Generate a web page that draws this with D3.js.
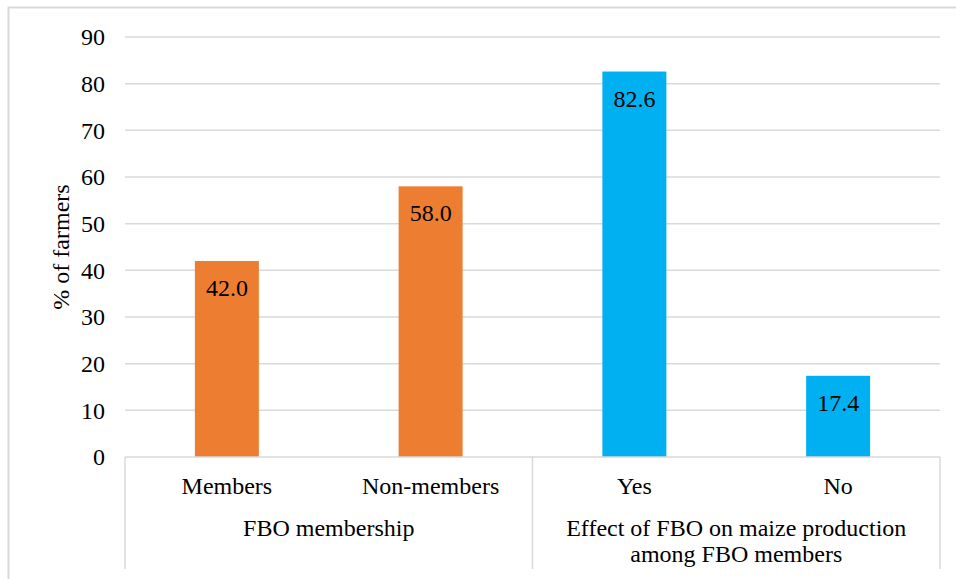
<!DOCTYPE html>
<html>
<head>
<meta charset="utf-8">
<script src="https://cdn.jsdelivr.net/npm/d3@7"></script>
<style>
  body { margin: 0; background: #fff; }
  svg text { font-family: "Liberation Serif", "Times New Roman", "DejaVu Serif", serif; fill: #000; }
</style>
</head>
<body>
<svg id="chart"></svg>
<script>
// data
var categories = ["Members", "Non-members", "Yes", "No"];
var values = [42.0, 58.0, 82.6, 17.4];
var groupNames = ["FBO membership", "Effect of FBO on maize production among FBO members"];
var groupLines = [["FBO membership"], ["Effect of FBO on maize production", "among FBO members"]];
var yTicks = [0, 10, 20, 30, 40, 50, 60, 70, 80, 90];

var svgWidth = 956, svgHeight = 579;
var plotLeft = 125, plotRight = 940, plotTop = 37, plotBottom = 457;
var colorArr = ["#ed7d31", "#ed7d31", "#00b0f0", "#00b0f0"];
var gridColor = "#d9d9d9";
var fontSize = "24px";
var fontFam = "'Liberation Serif', 'Times New Roman', serif";

var svg = d3.select("#chart")
    .attr("width", svgWidth)
    .attr("height", svgHeight)
    .attr("font-family", fontFam);

// outer chart border (right / bottom fall outside the picture)
svg.append("path")
   .attr("d", "M8.5,579 V7.5 H956")
   .attr("fill", "none")
   .attr("stroke", gridColor)
   .attr("stroke-width", 2);

var x = d3.scaleBand()
    .domain(categories)
    .range([plotLeft, plotRight])
    .paddingInner(0.686)
    .paddingOuter(0.343);

var y = d3.scaleLinear()
    .domain([0, 90])
    .range([plotBottom, plotTop]);

// gridlines
svg.append("g")
   .selectAll("line")
   .data(yTicks.filter(function(d){ return d > 0; }))
   .enter()
   .append("line")
   .attr("x1", plotLeft)
   .attr("x2", plotRight)
   .attr("y1", function(d){ return y(d); })
   .attr("y2", function(d){ return y(d); })
   .attr("stroke", gridColor)
   .attr("stroke-width", 1.5);

// y axis labels
var yAxis = d3.axisLeft(y).tickValues(yTicks).tickSize(0).tickPadding(20);
var yg = svg.append("g")
   .attr("transform", "translate(" + plotLeft + ",0)")
   .call(yAxis)
   .attr("font-family", fontFam)
   .attr("font-size", fontSize);
yg.select(".domain").remove();
yg.selectAll("text")
  .attr("font-family", fontFam)
  .attr("fill", "#000");

// y axis title
svg.append("text")
   .attr("transform", "translate(69," + ((plotTop + plotBottom) / 2) + ") rotate(-90)")
   .attr("text-anchor", "middle")
   .attr("font-family", fontFam)
   .attr("font-size", fontSize)
   .text("% of farmers");

// bars
svg.append("g")
   .selectAll("rect")
   .data(values)
   .enter()
   .append("rect")
   .attr("x", function(d, i){ return x(categories[i]); })
   .attr("y", function(d){ return y(d); })
   .attr("width", x.bandwidth())
   .attr("height", function(d){ return y(0) - y(d); })
   .attr("fill", function(d, i){ return colorArr[i]; });

// data labels
svg.append("g")
   .selectAll("text")
   .data(values)
   .enter()
   .append("text")
   .attr("x", function(d, i){ return x(categories[i]) + x.bandwidth() / 2; })
   .attr("y", function(d){ return y(d) + 35; })
   .attr("text-anchor", "middle")
   .attr("font-family", fontFam)
   .attr("font-size", fontSize)
   .text(function(d){ return d.toFixed(1); });

// category axis: baseline and group dividers
var step = x.step();
svg.append("line")
   .attr("x1", plotLeft).attr("x2", plotRight)
   .attr("y1", plotBottom).attr("y2", plotBottom)
   .attr("stroke", gridColor)
   .attr("stroke-width", 1.5);

var dividers = [0, 2, 4].map(function(i){ return plotLeft + i * step; });
svg.append("g")
   .selectAll("line")
   .data(dividers)
   .enter()
   .append("line")
   .attr("x1", function(d){ return d; })
   .attr("x2", function(d){ return d; })
   .attr("y1", plotBottom)
   .attr("y2", 569)
   .attr("stroke", gridColor)
   .attr("stroke-width", 1.5);

// category labels
svg.append("g")
   .selectAll("text")
   .data(categories)
   .enter()
   .append("text")
   .attr("x", function(d){ return x(d) + x.bandwidth() / 2; })
   .attr("y", 494)
   .attr("text-anchor", "middle")
   .attr("font-family", fontFam)
   .attr("font-size", fontSize)
   .text(function(d){ return d; });

// group labels
var gText = svg.append("g")
   .selectAll("text")
   .data(groupNames)
   .enter()
   .append("text")
   .attr("x", function(d, i){ return plotLeft + (i * 2 + 1) * step; })
   .attr("y", 536)
   .attr("text-anchor", "middle")
   .attr("font-family", fontFam)
   .attr("font-size", fontSize);

gText.selectAll("tspan")
   .data(function(d, i){ return groupLines[i]; })
   .enter()
   .append("tspan")
   .attr("x", function(){ return d3.select(this.parentNode).attr("x"); })
   .attr("dy", function(d, i){ return i === 0 ? 0 : 26; })
   .text(function(d){ return d; });
</script>
</body>
</html>
